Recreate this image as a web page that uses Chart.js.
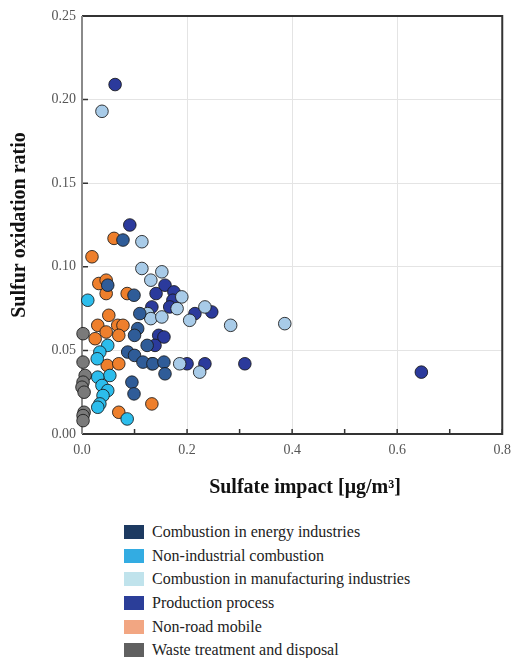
<!DOCTYPE html>
<html>
<head>
<meta charset="utf-8">
<script src="https://cdn.jsdelivr.net/npm/chart.js@4.4.1/dist/chart.umd.min.js"></script>
<style>
    body { margin: 0; background: #fff; }
    #wrap { position: relative; width: 519px; height: 658px; }
    #chartBox { position: absolute; left: 0; top: 0; width: 519px; height: 510px; }
    #legend { position: absolute; left: 124px; top: 520px; font-family: "Liberation Serif", serif; font-size: 16px; color: #222; }
    .item { height: 23.7px; display: flex; align-items: center; }
    .swatch { width: 20px; height: 14px; margin-right: 8px; }
</style>
</head>
<body>
<div id="wrap">
    <div id="chartBox"><canvas id="scatterChart"></canvas></div>
    <div id="legend"></div>
</div>
<script>
//////////////////////* Data *////////////////////////////
let sources = [
    "Combustion in energy industries",
    "Non-industrial combustion",
    "Combustion in manufacturing industries",
    "Production process",
    "Non-road mobile",
    "Waste treatment and disposal",
];

// Sulfate impact [ug/m3] (x) and sulfur oxidation ratio (y) per source
let energyX = [0.078, 0.099, 0.049, 0.110, 0.106, 0.100, 0.124, 0.087, 0.100, 0.116, 0.135, 0.156, 0.158, 0.095, 0.099];
let energyY = [0.116, 0.083, 0.089, 0.072, 0.063, 0.059, 0.053, 0.049, 0.047, 0.043, 0.042, 0.043, 0.036, 0.031, 0.024];

let nonIndX = [0.011, 0.049, 0.034, 0.029, 0.053, 0.030, 0.038, 0.049, 0.040, 0.034, 0.030, 0.086];
let nonIndY = [0.080, 0.053, 0.049, 0.045, 0.035, 0.034, 0.029, 0.026, 0.023, 0.018, 0.016, 0.009];

let manufX = [0.038, 0.114, 0.114, 0.152, 0.131, 0.190, 0.181, 0.234, 0.205, 0.283, 0.386, 0.125, 0.131, 0.133, 0.186, 0.224, 0.152];
let manufY = [0.193, 0.115, 0.099, 0.097, 0.092, 0.082, 0.075, 0.076, 0.068, 0.065, 0.066, 0.072, 0.069, 0.042, 0.042, 0.037, 0.070];

let prodX = [0.063, 0.091, 0.141, 0.158, 0.175, 0.173, 0.167, 0.133, 0.215, 0.247, 0.146, 0.156, 0.139, 0.200, 0.234, 0.310, 0.646];
let prodY = [0.209, 0.125, 0.084, 0.089, 0.085, 0.080, 0.076, 0.076, 0.072, 0.073, 0.059, 0.058, 0.053, 0.042, 0.042, 0.042, 0.037];

let roadX = [0.061, 0.019, 0.032, 0.046, 0.046, 0.086, 0.051, 0.030, 0.046, 0.068, 0.078, 0.070, 0.025, 0.048, 0.070, 0.133, 0.070];
let roadY = [0.117, 0.106, 0.090, 0.092, 0.084, 0.084, 0.071, 0.065, 0.061, 0.065, 0.065, 0.059, 0.057, 0.041, 0.042, 0.018, 0.013];

let wasteX = [0.002, 0.002, 0.006, 0.002, 0.000, 0.004, 0.004, 0.002, 0.002];
let wasteY = [0.060, 0.043, 0.035, 0.031, 0.028, 0.025, 0.013, 0.011, 0.008];

let xTicks = [0.0, 0.2, 0.4, 0.6, 0.8];
let yTicks = [0.00, 0.05, 0.10, 0.15, 0.20, 0.25];

let xTitle = "Sulfate impact [μg/m³]";

//////////////////////* Styles *////////////////////////////
let primaryFont = "'Liberation Serif', serif";
let markerColors = ["#2f5c98", "#2cbdec", "#a8cbe8", "#2b3a9c", "#ee7f2c", "#7a7a7a"];
let legendColors = ["#1d3a61", "#33ace2", "#c0e3ec", "#2b3e99", "#f2a682", "#606060"];
let neutralColor = "#555";

function toPoints(xs, ys) {
    return xs.map((x, i) => ({ x: x, y: ys[i] }));
}

let seriesX = [energyX, nonIndX, manufX, prodX, roadX, wasteX];
let seriesY = [energyY, nonIndY, manufY, prodY, roadY, wasteY];

//////////////////////* Frame + inner ticks *////////////////////////////
let framePlugin = {
    id: "frame",
    beforeDatasetsDraw(chart) {
        let c = chart.ctx;
        let a = chart.chartArea;
        let xs = chart.scales.x;
        let ys = chart.scales.y;
        c.save();
        c.strokeStyle = "#333";
        c.lineWidth = 1.5;
        // inner tick marks
        c.beginPath();
        for (let v = 0.1; v < 0.8; v += 0.1) {
            let px = xs.getPixelForValue(v);
            c.moveTo(px, a.bottom);
            c.lineTo(px, a.bottom - 5);
        }
        yTicks.forEach(v => {
            let py = ys.getPixelForValue(v);
            c.moveTo(a.left, py);
            c.lineTo(a.left + 6, py);
        });
        c.stroke();
        c.lineWidth = 2;
        c.beginPath();
        c.moveTo(a.left, a.top);
        c.lineTo(a.right, a.top);
        c.lineTo(a.right, a.bottom);
        c.lineTo(a.left, a.bottom);
        c.stroke();
        c.strokeStyle = "#8a8a8a";
        c.beginPath();
        c.moveTo(a.left, a.top);
        c.lineTo(a.left, a.bottom);
        c.stroke();
        // x title, sits a little right of the axis centre in the original
        c.fillStyle = "#111";
        c.font = "bold 20px " + primaryFont;
        c.textAlign = "center";
        c.textBaseline = "middle";
        c.fillText(xTitle, 305, 488);
        c.restore();
    }
};

//////////////////////* Scatter Chart *////////////////////////////
function scatterChart() {
    let ctx = document.getElementById("scatterChart");
    let datasets = sources.map((name, i) => ({
        label: name,
        data: toPoints(seriesX[i], seriesY[i]),
        backgroundColor: markerColors[i],
        borderColor: "rgba(25,25,25,0.85)",
        borderWidth: 1,
        pointRadius: 6.3,
        clip: false,
    }));
    let config = {
        type: "scatter",
        data: { datasets: datasets },
        options: {
            responsive: true,
            maintainAspectRatio: false,
            animation: false,
            layout: { padding: { top: 16, right: 16, left: 0, bottom: 0 } },
            plugins: {
                legend: { display: false },
                tooltip: { enabled: false },
            },
            scales: {
                x: {
                    min: 0,
                    max: 0.8,
                    afterBuildTicks: scale => { scale.ticks = xTicks.map(v => ({ value: v })); },
                    afterFit: scale => { scale.height = 76; },
                    ticks: {
                        color: neutralColor,
                        padding: 8,
                        callback: value => value.toFixed(1),
                        font: { family: primaryFont, size: 14 },
                    },
                    grid: { color: "#e4e4e4", drawTicks: false },
                    border: { display: false },
                    title: { display: false },
                },
                y: {
                    min: 0,
                    max: 0.25,
                    afterBuildTicks: scale => { scale.ticks = yTicks.map(v => ({ value: v })); },
                    afterFit: scale => { scale.width = 82; },
                    ticks: {
                        color: neutralColor,
                        padding: 6,
                        callback: value => value.toFixed(2),
                        font: { family: primaryFont, size: 14 },
                    },
                    grid: { color: "#e4e4e4", drawTicks: false },
                    border: { display: false },
                    title: {
                        display: true,
                        text: "Sulfur oxidation ratio",
                        color: "#111",
                        padding: { top: 8, bottom: 0 },
                        font: { family: primaryFont, weight: "bold", size: 20 },
                    },
                },
            },
        },
        plugins: [framePlugin],
    };
    new Chart(ctx, config);
}

function buildLegend() {
    let box = document.getElementById("legend");
    sources.forEach((name, i) => {
        let row = document.createElement("div");
        row.className = "item";
        let sw = document.createElement("span");
        sw.className = "swatch";
        sw.style.background = legendColors[i];
        let txt = document.createElement("span");
        txt.textContent = name;
        row.appendChild(sw);
        row.appendChild(txt);
        box.appendChild(row);
    });
}

scatterChart();
buildLegend();
</script>
</body>
</html>
